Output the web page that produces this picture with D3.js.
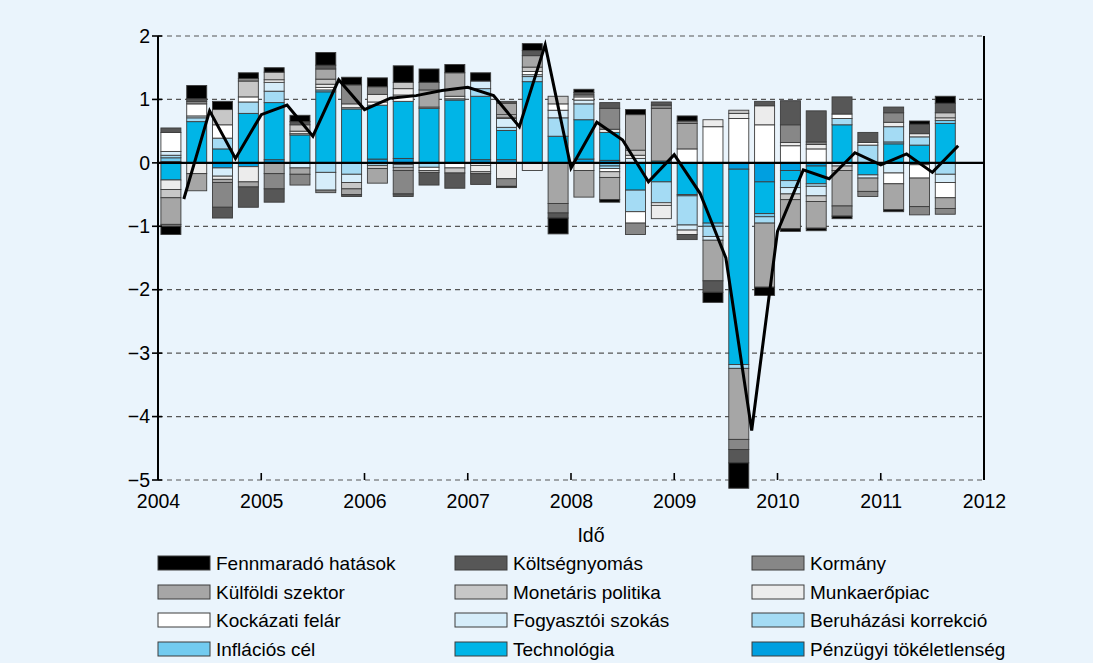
<!DOCTYPE html>
<html><head><meta charset="utf-8">
<script src="https://cdn.jsdelivr.net/npm/d3@7"></script>
<style>
body{margin:0;background:#eaf4fc}
svg{display:block}
text{font-family:"Liberation Sans",Arial,Helvetica,sans-serif;fill:#000}
</style>
</head><body>
<svg id="chart" width="1093" height="663"></svg>
<script>
// ---------- DATA ----------
const quarters = ["2004Q1","2004Q2","2004Q3","2004Q4","2005Q1","2005Q2","2005Q3","2005Q4",
  "2006Q1","2006Q2","2006Q3","2006Q4","2007Q1","2007Q2","2007Q3","2007Q4",
  "2008Q1","2008Q2","2008Q3","2008Q4","2009Q1","2009Q2","2009Q3","2009Q4",
  "2010Q1","2010Q2","2010Q3","2010Q4","2011Q1","2011Q2","2011Q3"];

const penzugyi   = [.02,0,-.08,-.06,.05,0,0,0,.06,.07,0,0,.05,.05,0,0,.06,.04,0,.03,0,0,-.10,-.30,-.12,-.05,0,0,0,0,0];
const technologia= [-.27,.65,.22,.78,.90,.44,1.12,.85,.85,.90,.86,.99,1.0,.46,1.28,.42,.62,.44,-.43,-.30,-.50,-.95,-3.08,-.50,-.16,-.28,.60,-.19,.30,.28,.62];
const inflacios  = [.06,0,0,0,0,0,.03,0,0,0,0,0,0,0,0,0,0,-.05,0,0,-.02,-.05,0,-.05,0,0,0,0,.03,0,.05];
const beruhazasi = [.04,.06,.17,.18,.18,0,-.15,-.18,-.04,-.03,-.07,.02,.12,.05,.08,.29,.25,-.04,-.34,-.33,-.46,-.16,-.06,-.10,-.11,-.04,.10,.28,.24,.13,-.18];
const fogyasztoi = [.06,.03,-.13,0,.14,-.08,-.28,-.13,0,-.04,0,0,.12,.14,.03,.12,.06,0,.07,0,-.08,-.06,0,0,-.10,-.15,-.05,-.05,-.16,-.03,-.13];
const kockazati  = [.30,.19,.21,.08,.04,.02,.04,.02,.05,.10,-.05,-.08,-.04,.02,.05,.10,.05,-.05,-.18,-.04,.22,.57,.70,.60,.27,.22,.07,.04,-.17,-.21,-.24];
const munkaero   = [-.15,-.17,-.05,-.24,0,.04,.05,.06,.12,.10,.02,.04,-.10,-.25,-.12,0,-.12,.05,.05,-.21,-.07,.11,.08,.30,.05,.07,0,0,.07,.05,.04];
const monetaris  = [-.13,0,.24,.25,.12,.10,.08,-.10,-.05,.10,-.03,-.08,-.03,.04,.07,.12,.03,-.09,.08,0,0,0,.05,0,-.09,-.09,-.07,0,0,0,.08];
const kulfoldi   = [-.42,-.27,-.05,-.08,-.17,-.10,.16,-.09,-.23,-.05,.27,.37,0,.18,.18,-.64,-.42,-.35,.56,.83,.40,-.64,-1.12,-1.01,-.46,-.42,-.56,-.21,-.41,-.45,-.17];
const kormany    = [-.03,.04,-.39,.04,-.24,-.17,-.04,.30,.12,-.37,.12,0,0,-.12,0,-.15,0,.33,-.18,.05,.04,0,-.16,0,.28,.04,-.16,-.08,.15,-.13,-.09];
const koltseg    = [.07,.04,-.17,-.32,-.21,.05,.06,-.03,0,-.04,-.20,-.24,-.17,.03,.08,-.08,.04,.09,0,.05,-.08,-.18,-.21,.07,.38,.49,.27,.16,.09,.15,.15];
const fennmarado = [-.13,.21,.13,.09,.07,.10,.20,.12,.14,.26,.21,.13,.13,-.02,.11,-.25,.05,-.04,.08,0,.08,-.16,-.40,-.13,-.04,-.04,-.04,0,-.03,.05,.11];

const totalLine  = [-.57,.82,.07,.76,.91,.42,1.31,.84,1.02,1.06,1.14,1.19,1.06,.57,1.86,-.08,.64,.36,-.30,.13,-.48,-1.50,-4.22,-1.08,-.11,-.25,.16,-.03,.14,-.15,.27];

const xTickLabels = ["2004","2005","2006","2007","2008","2009","2010","2011","2012"];
const yTickValues = [2,1,0,-1,-2,-3,-4,-5];

// legend order
const legendNames = ["Fennmaradó hatások","Költségnyomás","Kormány","Külföldi szektor","Monetáris politika","Munkaerőpiac",
  "Kockázati felár","Fogyasztói szokás","Beruházási korrekció","Inflációs cél","Technológia","Pénzügyi tökéletlenség"];
const legendColors = ["#000000","#575757","#878787","#a6a6a6","#c7c7c7","#ececec",
  "#ffffff","#d6edfa","#a4dbf4","#72cbf0","#00b5e7","#009fe0"];
const legendData = [fennmarado,koltseg,kormany,kulfoldi,monetaris,munkaero,kockazati,fogyasztoi,beruhazasi,inflacios,technologia,penzugyi];

// ---------- CHART ----------
const svg = d3.select("#chart");
const L = 158, R = 984, T = 36, B = 480;
const x = d3.scaleLinear().domain([2004, 2012]).range([L, R]);
const y = d3.scaleLinear().domain([-5, 2]).range([B, T]);

// stacking order: from zero outward = reverse legend order
const keys = legendNames.slice().reverse();
const colorOf = {}; legendNames.forEach((n,i)=>colorOf[n]=legendColors[i]);
const rows = quarters.map((q,i)=>{
  const r = {q, t: +q.slice(0,4) + (+q.slice(5)-1)/4};
  legendNames.forEach((n,k)=>r[n]=legendData[k][i]);
  return r;
});
const stacked = d3.stack().keys(keys).offset(d3.stackOffsetDiverging)(rows);

const g = svg.append("g");

// gridlines
g.selectAll("line.grid").data(yTickValues).join("line")
  .attr("x1", L).attr("x2", R).attr("y1", d=>y(d)).attr("y2", d=>y(d))
  .attr("stroke", "#555").attr("stroke-width", 1.2).attr("stroke-dasharray", "5,4");

// bars
const qw = x(2004.25) - x(2004), bw = 20;
stacked.forEach(s=>{
  g.append("g").selectAll("rect").data(s.filter(d=>d[1]!==d[0])).join("rect")
    .attr("x", d=>x(d.data.t) + (qw-bw)/2)
    .attr("width", bw)
    .attr("y", d=>y(Math.max(d[0],d[1])))
    .attr("height", d=>Math.abs(y(d[0])-y(d[1])))
    .attr("fill", colorOf[s.key])
    .attr("stroke", "#3c3c3c").attr("stroke-width", 0.9);
});

// zero line
g.append("line").attr("x1", L).attr("x2", R).attr("y1", y(0)).attr("y2", y(0))
  .attr("stroke", "#000").attr("stroke-width", 2.4);

// total line
const line = d3.line().x((d,i)=>x(rows[i].t + 0.25)).y(d=>y(d));
g.append("path").datum(totalLine).attr("d", line)
  .attr("fill", "none").attr("stroke", "#000").attr("stroke-width", 3).attr("stroke-linejoin","miter");

// left axis
const yAxis = d3.axisLeft(y).tickValues(yTickValues).tickSize(0).tickPadding(8)
  .tickFormat(d=>d<0 ? "\u2212"+Math.abs(d) : d);
const ya = svg.append("g").attr("transform", `translate(${L},0)`).call(yAxis);
ya.select(".domain").remove();
ya.selectAll("text").attr("font-size", 19.5).attr("font-family", '"Liberation Sans",Arial,sans-serif').attr("fill","#000");
svg.append("line").attr("x1", L).attr("x2", L).attr("y1", T).attr("y2", B).attr("stroke","#000").attr("stroke-width",2);
svg.selectAll("line.ytick").data(yTickValues).join("line")
  .attr("x1", L-6).attr("x2", L+4).attr("y1", d=>y(d)).attr("y2", d=>y(d))
  .attr("stroke","#000").attr("stroke-width",1.6);

// right border
svg.append("line").attr("x1", R).attr("x2", R).attr("y1", T).attr("y2", B).attr("stroke","#000").attr("stroke-width",2);

// bottom axis
const xAxis = d3.axisBottom(x).tickValues(xTickLabels.map(Number)).tickSize(0).tickPadding(14)
  .tickFormat((d,i)=>xTickLabels[i]);
const xa = svg.append("g").attr("transform", `translate(0,${B})`).call(xAxis);
xa.select(".domain").remove();
xa.selectAll("text").attr("font-size", 19.5).attr("font-family", '"Liberation Sans",Arial,sans-serif').attr("fill","#000");
svg.selectAll("line.xtick").data(xTickLabels.map(Number)).join("line")
  .attr("x1", d=>x(d)).attr("x2", d=>x(d)).attr("y1", B).attr("y2", B-7)
  .attr("stroke","#000").attr("stroke-width",1.6);

svg.append("text").attr("x", 591).attr("y", 542).attr("text-anchor","middle")
  .attr("font-size", 19.5).text("Idő");

// legend
const colX = [158, 455, 752], rowY = [563, 592, 620, 649];
const lg = svg.append("g");
legendNames.forEach((n,i)=>{
  const cx = colX[i%3], cy = rowY[Math.floor(i/3)];
  lg.append("rect").attr("x", cx).attr("y", cy-7).attr("width", 52).attr("height", 14)
    .attr("fill", legendColors[i]).attr("stroke", "#3c3c3c").attr("stroke-width", 1);
  lg.append("text").attr("x", cx+58).attr("y", cy+7).attr("font-size", 19).text(n);
});
</script>
</body></html>
